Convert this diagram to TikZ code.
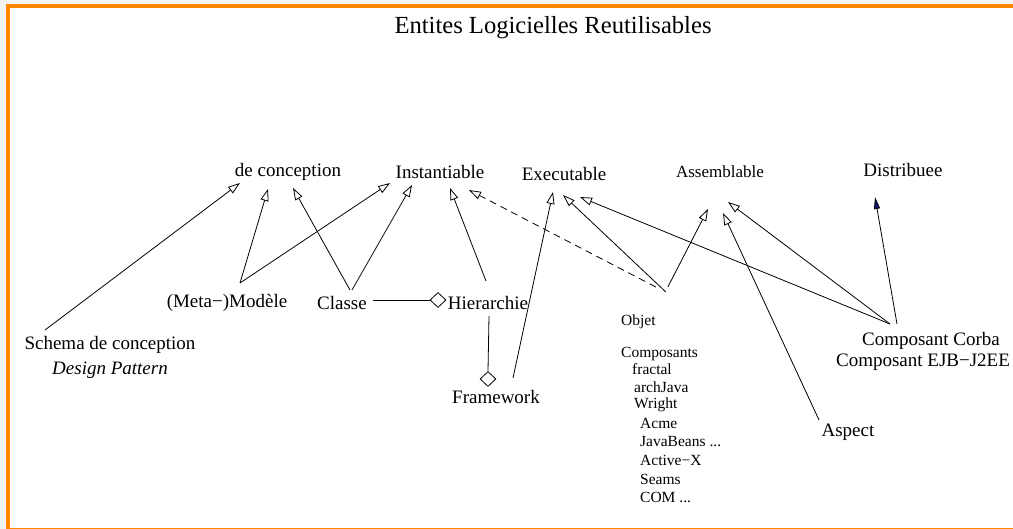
\documentclass[tikz,border=0pt]{standalone}
\usepackage{fontspec}
\setmainfont{Liberation Serif}
\usetikzlibrary{arrows.meta,shapes.geometric,calc}
\definecolor{frameorange}{RGB}{255,136,0}
\definecolor{outgray}{RGB}{244,244,244}
\definecolor{navyfill}{RGB}{20,20,110}
\begin{document}
\begin{tikzpicture}[x=1pt,y=-1pt,
  lbl/.style={inner sep=0pt, font=\fontsize{19}{25}\selectfont},
  small/.style={inner sep=0pt, anchor=west, font=\fontsize{15.5}{19}\selectfont},
  gen/.style={line width=0.8pt, -{Triangle[open,length=12pt,width=8pt]}},
  genfill/.style={line width=0.8pt, -{Triangle[length=12pt,width=6pt,fill=navyfill]}},
  agg/.style={diamond, draw, line width=0.8pt, inner sep=0pt, minimum width=16pt, minimum height=15pt, fill=white},
  plain/.style={line width=0.8pt},
  dashedline/.style={line width=0.8pt, dash pattern=on 7pt off 5pt}
]
% frame
\fill[outgray] (0,0) rectangle (1013,529);
\fill[white] (6,4) rectangle (1013,529);
\fill[frameorange] (6,4) rectangle (10,529);
\fill[frameorange] (6,4) rectangle (1013,8);
\fill[frameorange] (6,527.5) rectangle (1013,529);
\useasboundingbox (0,0) rectangle (1013,529);

% nodes
\node[lbl, font=\fontsize{24.6}{28}\selectfont] (title) at (553,28) {Entites Logicielles Reutilisables};
\node[lbl] (dc) at (288,172) {de conception};
\node[lbl] (inst) at (440,172) {Instantiable};
\node[lbl] (exec) at (564,174) {Executable};
\node[lbl, font=\fontsize{17}{20}\selectfont] (asm) at (720,172) {Assemblable};
\node[lbl] (dist) at (903,170) {Distribuee};
\node[lbl] (mod) at (227,303) {(Meta−)Modèle};
\node[lbl] (cls) at (342,303) {Classe};
\node[lbl] (hier) at (488,303) {Hierarchie};
\node[lbl, align=center] (schema) at (110,357) {Schema de conception\\\textit{Design Pattern}};
\node[lbl] (fw) at (496,397) {Framework};
\node[lbl] (aspect) at (848,432) {Aspect};
\node[lbl] (corba) at (931,341) {Composant Corba};
\node[lbl] (ejb) at (923,362) {Composant EJB−J2EE};

\node[small] (objet) at (621,322) {Objet};
\node[small] (comp) at (621,354) {Composants};
\node[small] (fractal) at (632,369) {fractal};
\node[small] (archjava) at (634,387) {archJava};
\node[small] (wright) at (634,405) {Wright};
\node[small] (acme) at (640,423) {Acme};
\node[small] (javabeans) at (640,442) {JavaBeans ...};
\node[small] (activex) at (640,460) {Active−X};
\node[small] (seams) at (640,479) {Seams};
\node[small] (com) at (640,497) {COM ...};

\node[agg] (d1) at (438,300) {};
\node[agg] (d2) at (488,379) {};

% connectors
\draw[gen] ($(schema)+(-65,-27)$) -- ($(dc)+(-48,11)$);
\draw[gen] ($(mod)+(13,-20)$) -- ($(dc)+(-20,17)$);
\draw[gen] ($(mod)+(13,-20)$) -- ($(inst)+(-50,11)$);
\draw[gen] ($(cls)+(8,-13)$) -- ($(dc)+(5,16)$);
\draw[gen] ($(cls)+(10,-13)$) -- ($(inst)+(-28,13)$);
\draw[gen] ($(hier)+(-2,-22)$) -- ($(inst)+(10,16)$);
\draw[dashedline, -{Triangle[open,length=12pt,width=8pt]}] ($(objet.east)+(0,-35)$) -- ($(inst)+(29,18)$);
\draw[gen] ($(fw)+(17,-19)$) -- ($(exec)+(-11,18)$);
\draw[gen] ($(objet.east)+(10,-30)$) -- ($(exec)+(-1,21)$);
\draw[gen] ($(objet.east)+(12,-35)$) -- ($(asm)+(-12,37)$);
\draw[gen] ($(corba)+(-41,-17)$) -- ($(exec)+(16,23)$);
\draw[gen] ($(corba)+(-41,-17)$) -- ($(asm)+(8,30)$);
\draw[genfill] ($(corba)+(-34,-17)$) -- ($(dist)+(-28,27)$);
\draw[gen] ($(aspect)+(-29,-12)$) -- ($(asm)+(3,41)$);

\draw[plain] ($(cls.east)+(6,-3)$) -- (d1.west);
\draw[plain] ($(hier)+(1,13)$) -- (d2.north);
\end{tikzpicture}
\end{document}
